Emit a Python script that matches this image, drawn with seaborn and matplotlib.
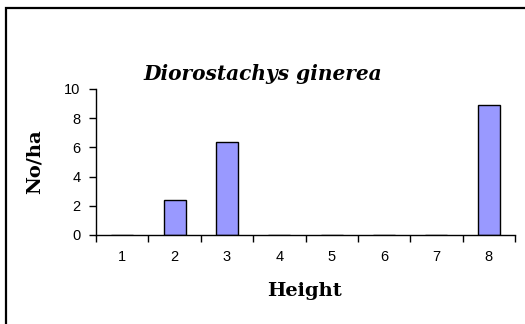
import matplotlib
matplotlib.use("Agg")
import matplotlib.pyplot as plt
from matplotlib.patches import Rectangle
from matplotlib.ticker import FixedLocator, NullFormatter
import seaborn as sns
import pandas as pd

# Height classes and density (No/ha)
heights = ["1", "2", "3", "4", "5", "6", "7", "8"]
density = [0, 2.4, 6.4, 0, 0, 0, 0, 8.9]
y_ticks = [0, 2, 4, 6, 8, 10]

sns.set_theme(style="white")
plt.rcParams["font.family"] = ["Liberation Sans", "DejaVu Sans"]
plt.rcParams["text.color"] = "black"
plt.rcParams["xtick.color"] = "black"
plt.rcParams["ytick.color"] = "black"

df = pd.DataFrame({"Height": heights, "No/ha": density})

fig = plt.figure(figsize=(5.25, 3.24), dpi=100)
fig.patch.set_facecolor("white")
ax = fig.add_axes([96 / 525, 1 - 235 / 324, (515 - 96) / 525, (235 - 89) / 324])

sns.barplot(data=df, x="Height", y="No/ha", color="#9999FF", saturation=1,
            width=0.42, edgecolor="black", linewidth=1.0, ax=ax)

ax.set_xlim(-0.5, len(heights) - 0.5)
ax.set_ylim(0, 10)
ax.set_yticks(y_ticks)
ax.set_yticklabels([str(v) for v in y_ticks], fontsize=10.5)

# category labels at centres, tick marks at boundaries
ax.xaxis.set_major_locator(FixedLocator([i - 0.5 for i in range(len(heights) + 1)]))
ax.xaxis.set_major_formatter(NullFormatter())
ax.xaxis.set_minor_locator(FixedLocator(list(range(len(heights)))))
ax.set_xticklabels(heights, minor=True, fontsize=10.5)
ax.tick_params(axis="x", which="major", direction="out", length=5, width=1, color="black", bottom=True)
ax.tick_params(axis="x", which="minor", length=0, pad=11, bottom=True)
ax.tick_params(axis="y", direction="out", length=5, width=1, color="black", left=True, pad=6)

for s in ["top", "right"]:
    ax.spines[s].set_visible(False)
for s in ["left", "bottom"]:
    ax.spines[s].set_color("black")
    ax.spines[s].set_linewidth(1.0)

ax.set_xlabel("")
ax.set_ylabel("")
fig.text(263 / 525, 1 - 74 / 324, "Diorostachys ginerea", family="DejaVu Serif",
         weight="bold", style="italic", fontsize=14.5, ha="center", va="center")
fig.text(35 / 525, 1 - 162 / 324, "No/ha", family="DejaVu Serif", weight="bold",
         fontsize=14, rotation=90, ha="center", va="center")
fig.text(305 / 525, 1 - 291 / 324, "Height", family="DejaVu Serif", weight="bold",
         fontsize=14, ha="center", va="center")

# outer chart frame
fig.add_artist(Rectangle((6 / 525, -0.1), 1.2, 1 - 8 / 324 + 0.1, transform=fig.transFigure,
                         fill=False, edgecolor="black", linewidth=1.6))

fig.savefig("out.png", dpi=100)
